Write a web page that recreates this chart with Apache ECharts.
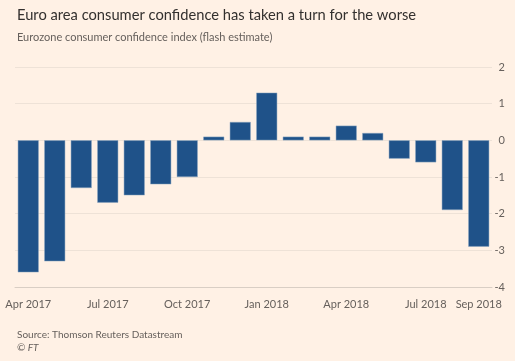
<!DOCTYPE html>
<html><head><meta charset="utf-8">
<script src="https://cdn.jsdelivr.net/npm/echarts@6/dist/echarts.min.js"></script>
<style>html,body{margin:0;padding:0;background:#fff1e5;}#c{width:515px;height:361px;}</style>
</head><body><div id="c"></div>
<script>
const months = ['Apr 2017','May 2017','Jun 2017','Jul 2017','Aug 2017','Sep 2017','Oct 2017','Nov 2017','Dec 2017','Jan 2018','Feb 2018','Mar 2018','Apr 2018','May 2018','Jun 2018','Jul 2018','Aug 2018','Sep 2018'];
const confidence = [-3.6,-3.3,-1.3,-1.7,-1.5,-1.2,-1.0,0.1,0.5,1.3,0.1,0.1,0.4,0.2,-0.5,-0.6,-1.9,-2.9];
const labelledMonths = ['Apr 2017','Jul 2017','Oct 2017','Jan 2018','Apr 2018','Jul 2018','Sep 2018'];
const yTicks = {min:-4, max:2, interval:1};

const FONT = 'Lato';
const showLabel = (i, v) => labelledMonths.indexOf(months[i]) >= 0;
const chart = echarts.init(document.getElementById('c'));
chart.setOption({
  backgroundColor:'#fff1e5',
  animation:false,
  title:[
    {text:'Euro area consumer confidence has taken a turn for the worse', left:12, top:3,
     textStyle:{fontFamily:FONT, fontSize:14.7, fontWeight:'normal', color:'#33302e'}},
    {text:'Eurozone consumer confidence index (flash estimate)', left:12, top:27,
     textStyle:{fontFamily:FONT, fontSize:11, fontWeight:'normal', color:'#66605c'}},
    {text:'Source: Thomson Reuters Datastream', left:12, top:325,
     textStyle:{fontFamily:FONT, fontSize:10, fontWeight:'normal', color:'#66605c'}},
    {text:'© FT', left:12, top:338,
     textStyle:{fontFamily:FONT, fontSize:10, fontStyle:'italic', fontWeight:'normal', color:'#66605c'}}
  ],
  grid:{left:15, right:23, top:67, bottom:74},
  xAxis:{type:'category', data:months,
    axisLine:{onZero:false, lineStyle:{color:'#d9cec4'}},
    axisTick:{alignWithLabel:true, length:7, interval:showLabel, lineStyle:{color:'#d9cec4'}},
    axisLabel:{interval:showLabel, margin:12, fontFamily:FONT, fontSize:11, color:'#66605c'}
  },
  yAxis:{type:'value', position:'right', min:yTicks.min, max:yTicks.max, interval:yTicks.interval,
    axisLine:{show:false}, axisTick:{show:false},
    splitLine:{lineStyle:{color:'#eee2d7'}},
    axisLabel:{align:'right', margin:13, fontFamily:FONT, fontSize:11, color:'#66605c'}
  },
  series:[{type:'bar', data:confidence, barCategoryGap:'21%',
    itemStyle:{color:'#1f5289', borderColor:'#8da6c0', borderWidth:0.5}}]
});
</script></body></html>
